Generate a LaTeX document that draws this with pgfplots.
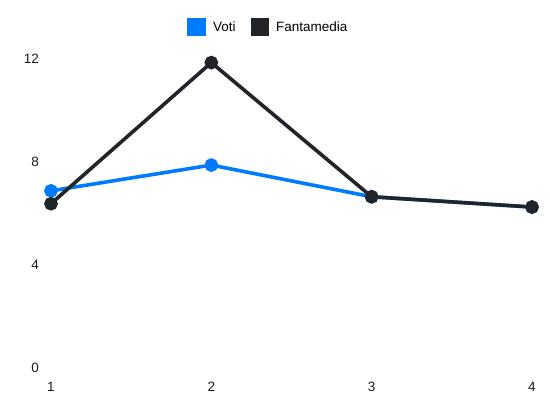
\documentclass[border=0pt]{standalone}
\usepackage{fontspec}
\setmainfont{Liberation Sans}
\usepackage{pgfplots}
\pgfplotsset{compat=1.18}
\definecolor{cblue}{RGB}{0,123,255}
\definecolor{cdark}{RGB}{33,37,41}
\begin{document}
\begin{tikzpicture}[x=1pt,y=1pt]
\useasboundingbox (0,0) rectangle (550,412);
\begin{axis}[
  at={(51pt,44pt)}, anchor=south west,
  scale only axis, width=481pt, height=309pt,
  xmin=1, xmax=4, ymin=0, ymax=12,
  xtick={1,2,3,4}, ytick={0,4,8,12},
  axis line style={draw=none},
  major tick length=0pt,
  clip=false,
  /pgf/number format/assume math mode=true,
  tick label style={font=\fontsize{13.5}{15}\selectfont, text=black!90},
  xticklabel style={anchor=center, yshift=-19pt, inner sep=0pt},
  yticklabel style={anchor=east, xshift=-12pt, inner sep=0pt},
  legend columns=2,
  legend style={draw=none, fill=none, at={(0.5,1)}, anchor=center, xshift=-23pt, yshift=32pt,
    inner sep=0pt, outer sep=0pt,
    font=\fontsize{13.5}{15}\selectfont, /tikz/every even column/.append style={column sep=13pt}},
  legend image code/.code={\fill[#1] (0pt,-7.5pt) rectangle (15pt,7.5pt); \path (20pt,0pt);},
]
\addplot[color=cblue, line width=3.6pt, mark=*, mark size=5pt, mark options={solid}] coordinates {
 (1,6.88) (2,7.88) (3,6.65) (4,6.25)};
\addlegendentry{Voti}
\addplot[color=cdark, line width=3.6pt, mark=*, mark size=5pt, mark options={solid}] coordinates {
 (1,6.38) (2,11.86) (3,6.65) (4,6.25)};
\addlegendentry{Fantamedia}
\end{axis}
\end{tikzpicture}
\end{document}
